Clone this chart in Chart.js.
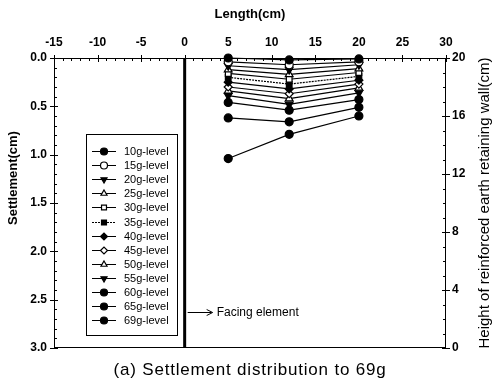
<!DOCTYPE html>
<html>
<head>
<meta charset="utf-8">
<script src="https://cdn.jsdelivr.net/npm/chart.js@4.4.0/dist/chart.umd.min.js"></script>
<style>
  body { margin: 0; background: #fff; }
  canvas { display: block; }
</style>
</head>
<body>
<canvas id="myChart" width="499" height="385"></canvas>
<script>
// Distancia desde el muro (cm) donde se midió el asentamiento
const lengthCm = [5, 12, 20];
const levels = ['10g-level', '15g-level', '20g-level', '25g-level', '30g-level', '35g-level', '40g-level',
    '45g-level', '50g-level', '55g-level', '60g-level', '65g-level', '69g-level'];

// Asentamientos (cm) por nivel de aceleración
const s10 = [0.00, 0.02, 0.01];
const s15 = [0.04, 0.07, 0.04];
const s20 = [0.08, 0.12, 0.07];
const s25 = [0.12, 0.17, 0.11];
const s30 = [0.16, 0.22, 0.15];
const s35 = [0.20, 0.27, 0.19];
const s40 = [0.25, 0.32, 0.23];
const s45 = [0.30, 0.37, 0.27];
const s50 = [0.34, 0.42, 0.31];
const s55 = [0.39, 0.48, 0.36];
const s60 = [0.46, 0.54, 0.43];
const s65 = [0.62, 0.66, 0.51];
const s69 = [1.04, 0.79, 0.60];

// Elemento de fachada en x = 0
const facingX = [0, 0];
const facingDepth = [0, 3];

// Marcas de los ejes
const lengthTicks = [-15, -10, -5, 0, 5, 10, 15, 20, 25, 30];
const settleTicks = [0, 0.5, 1.0, 1.5, 2.0, 2.5, 3.0];
const heightTicks = [0, 4, 8, 12, 16, 20];

// estilo de cada serie: [pointStyle, relleno, rotación]
const markers = [
    ['circle', true, 0], ['circle', false, 0], ['triangle', true, 180], ['triangle', false, 0],
    ['rect', false, 0], ['rect', true, 0], ['rectRot', true, 0], ['rectRot', false, 0],
    ['triangle', false, 0], ['triangle', true, 180], ['circle', true, 0], ['circle', true, 0],
    ['circle', true, 0]
];
const series = [s10, s15, s20, s25, s30, s35, s40, s45, s50, s55, s60, s65, s69];

const datasets = series.map((s, i) => ({
    label: levels[i],
    data: lengthCm.map((x, j) => ({ x: x, y: s[j] })),
    borderColor: '#000',
    backgroundColor: markers[i][1] ? '#000' : '#fff',
    borderWidth: 1.2,
    borderDash: i === 5 ? [2, 1] : [],
    pointStyle: markers[i][0],
    pointRotation: markers[i][2],
    pointRadius: markers[i][0] === 'triangle' ? 4.5 : 4,
    pointBorderWidth: 1.2,
    pointBorderColor: '#000',
    pointBackgroundColor: markers[i][1] ? '#000' : '#fff',
    tension: 0,
    clip: false
}));

datasets.push({
    label: 'facing',
    data: facingX.map((x, j) => ({ x: x, y: facingDepth[j] })),
    borderColor: '#000',
    borderWidth: 3,
    pointRadius: 0,
    clip: false
});

const FONT = "'Liberation Sans', Arial, sans-serif";

// Marco, marcas menores, títulos, leyenda y anotaciones
const framePlugin = {
    id: 'frame',
    afterDraw(chart) {
        const ctx = chart.ctx;
        const a = chart.chartArea;
        const sx = chart.scales.x, sy = chart.scales.y, sh = chart.scales.y2;
        ctx.save();
        ctx.strokeStyle = '#000';
        ctx.lineWidth = 1;
        ctx.strokeRect(a.left + 0.5, a.top + 0.5, a.right - a.left - 1, a.bottom - a.top - 1);

        ctx.beginPath();
        for (let v = -15; v <= 30; v++) {
            const px = Math.round(sx.getPixelForValue(v)) + 0.5;
            const major = v % 5 === 0;
            ctx.moveTo(px, a.top - (major ? 3 : 0));
            ctx.lineTo(px, a.top + (major ? 4 : 3));
        }
        for (let k = 0; k <= 30; k++) {
            const py = Math.round(sy.getPixelForValue(k / 10)) + 0.5;
            const major = k % 5 === 0;
            ctx.moveTo(a.left - (major ? 4 : 0), py);
            ctx.lineTo(a.left + (major ? 4 : 3), py);
        }
        for (let v = 0; v <= 20; v++) {
            const py = Math.round(sh.getPixelForValue(v)) + 0.5;
            const major = v % 4 === 0;
            ctx.moveTo(a.right + (major ? 4 : 0), py);
            ctx.lineTo(a.right - (major ? 4 : 3), py);
        }
        ctx.stroke();

        ctx.fillStyle = '#000';
        ctx.textAlign = 'center';
        ctx.textBaseline = 'middle';
        ctx.font = 'bold 13px ' + FONT;
        ctx.fillText('Length(cm)', 250, 14);

        ctx.save();
        ctx.translate(13, 178);
        ctx.rotate(-Math.PI / 2);
        ctx.fillText('Settlement(cm)', 0, 0);
        ctx.restore();

        ctx.save();
        ctx.translate(485, 203);
        ctx.rotate(-Math.PI / 2);
        ctx.font = '15px ' + FONT;
        ctx.fillText('Height of reinforced earth retaining wall(cm)', 0, 0);
        ctx.restore();

        ctx.font = '17px ' + FONT;
        ctx.letterSpacing = '0.8px';
        ctx.fillText('(a) Settlement distribution to 69g', 250, 370);
        ctx.letterSpacing = '0px';

        // flecha hacia el elemento de fachada
        const fx = sx.getPixelForValue(0) + 3;
        const ay = 312.5;
        ctx.beginPath();
        ctx.moveTo(fx, ay);
        ctx.lineTo(fx + 24, ay);
        ctx.moveTo(fx + 19, ay - 3);
        ctx.lineTo(fx + 25, ay);
        ctx.lineTo(fx + 19, ay + 3);
        ctx.stroke();
        ctx.textAlign = 'left';
        ctx.font = '12px ' + FONT;
        ctx.fillText('Facing element', fx + 29, ay + 0.5);

        // leyenda
        const lx = 86, ly = 134, lw = 91, lh = 201;
        ctx.fillStyle = '#fff';
        ctx.fillRect(lx, ly, lw, lh);
        ctx.strokeRect(lx + 0.5, ly + 0.5, lw, lh);
        ctx.font = '11px ' + FONT;
        chart.data.datasets.forEach((ds, i) => {
            if (i >= levels.length) return;
            const y = Math.round(ly + 17 + i * 14.1);
            ctx.setLineDash(ds.borderDash);
            ctx.beginPath();
            ctx.moveTo(lx + 6, y + 0.5);
            ctx.lineTo(lx + 30, y + 0.5);
            ctx.stroke();
            ctx.setLineDash([]);
            ctx.fillStyle = ds.pointBackgroundColor;
            ctx.lineWidth = 1.2;
            Chart.helpers.drawPoint(ctx, {
                pointStyle: ds.pointStyle,
                rotation: ds.pointRotation,
                radius: 3.5,
                borderWidth: 1.2
            }, lx + 18, y + 0.5);
            ctx.lineWidth = 1;
            ctx.fillStyle = '#000';
            ctx.fillText(ds.label, lx + 38, y + 1);
        });
        ctx.restore();
    }
};

const config = {
    type: 'line',
    data: { datasets: datasets },
    options: {
        responsive: false,
        animation: false,
        layout: { padding: { top: 0, left: 0, right: 0, bottom: 37 } },
        plugins: { legend: { display: false }, tooltip: { enabled: false } },
        scales: {
            x: {
                type: 'linear',
                position: 'top',
                min: -15, max: 30,
                afterBuildTicks: s => { s.ticks = lengthTicks.map(v => ({ value: v })); },
                afterFit: s => { s.height = 58; },
                grid: { display: false, drawTicks: false },
                border: { display: false },
                ticks: { color: '#000', padding: 8, maxRotation: 0, font: { family: FONT, size: 12, weight: 'bold' } }
            },
            y: {
                type: 'linear',
                position: 'left',
                reverse: true,
                min: 0, max: 3,
                afterBuildTicks: s => { s.ticks = settleTicks.map(v => ({ value: v })); },
                afterFit: s => { s.width = 54; },
                grid: { display: false, drawTicks: false },
                border: { display: false },
                ticks: { color: '#000', padding: 7, callback: v => v.toFixed(1), font: { family: FONT, size: 12, weight: 'bold' } }
            },
            y2: {
                type: 'linear',
                position: 'right',
                min: 0, max: 20,
                afterBuildTicks: s => { s.ticks = heightTicks.map(v => ({ value: v })); },
                afterFit: s => { s.width = 53; },
                grid: { display: false, drawTicks: false },
                border: { display: false },
                ticks: { color: '#000', padding: 6, font: { family: FONT, size: 12, weight: 'bold' } }
            }
        }
    },
    plugins: [framePlugin]
};

var myChart = new Chart(document.getElementById('myChart'), config);
</script>
</body>
</html>
